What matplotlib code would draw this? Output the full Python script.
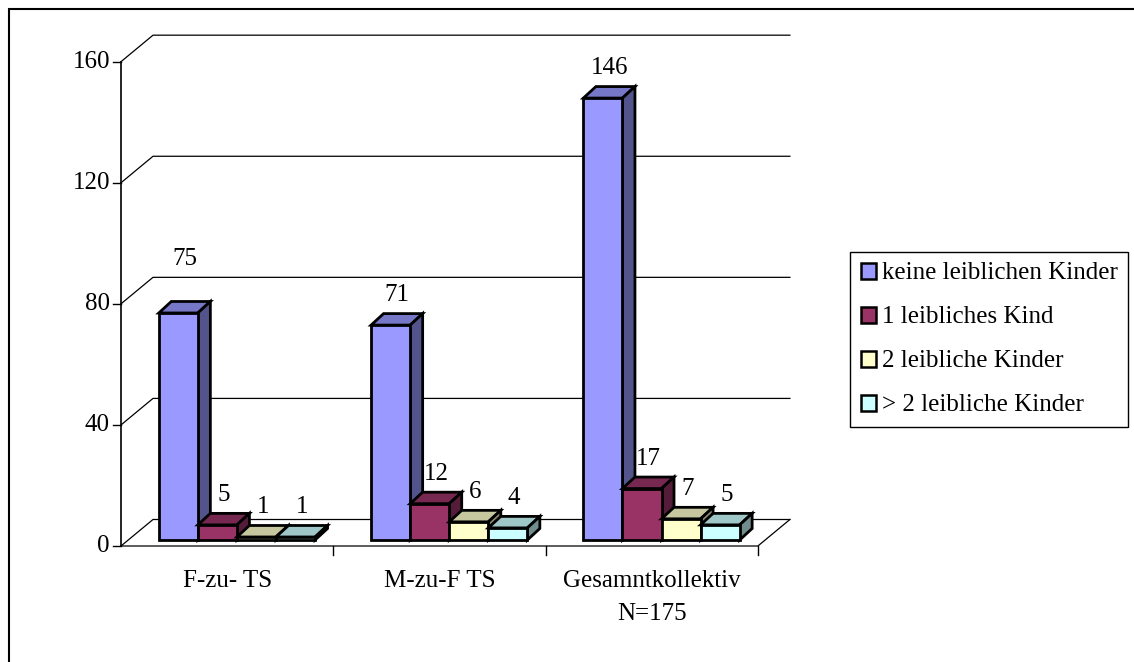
import matplotlib
matplotlib.use("Agg")
import matplotlib.pyplot as plt
from matplotlib.patches import Polygon, Patch, Rectangle
import numpy as np

# data
categories = ["F-zu- TS", "M-zu-F TS", "Gesamntkollektiv\nN=175"]
series_names = ["keine leiblichen Kinder", "1 leibliches Kind",
                "2 leibliche Kinder", "> 2 leibliche Kinder"]
keine = [75, 71, 146]
eins = [5, 12, 17]
zwei = [1, 6, 7]
mehr = [1, 4, 5]
yticks = [0, 40, 80, 120, 160]
colors = ["#9999FF", "#993366", "#FFFFCC", "#CCFFFF"]

values = [keine, eins, zwei, mehr]

plt.rcParams['font.family'] = ['Liberation Serif', 'DejaVu Serif']
FS = 18

W, H = 1134, 662
fig = plt.figure(figsize=(W / 100, H / 100), dpi=100)

# pixel scale of the plot: one category = 212.3 px, one unit = 3.027 px
sx, sy = 212.3, 3.027
x0px, y0px = 121, 546
ax = fig.add_axes([0, 0, 1, 1])
ax.set_xlim(-x0px / sx, (W - x0px) / sx)
ax.set_ylim((y0px - H) / sy, y0px / sy)
ax.axis("off")

# oblique depth of the walls and of the bars
DX, DY = 32 / sx, 26.5 / sy
f1 = 0.226                      # depth fraction of bar front faces
bdx, bdy = 12.5 / sx, 11.5 / sy  # depth of a bar
bw = 0.184                      # bar width (categories)
start = 0.178                   # first bar left edge inside a category
ncat = len(categories)

def shade(c, f):
    rgb = np.array(matplotlib.colors.to_rgb(c))
    return tuple(rgb * f)

lc = "black"
# back wall gridlines + left wall diagonals
for v in yticks:
    ax.plot([0, DX, ncat + DX], [v, v + DY, v + DY], color=lc, lw=0.9, zorder=1)
# floor
ax.plot([0, ncat, ncat + DX], [0, 0, DY], color=lc, lw=0.9, zorder=1)
# value axis with ticks
ax.plot([0, 0], [0, yticks[-1]], color=lc, lw=1.2, zorder=1)
for v in yticks:
    ax.plot([-8 / sx, 0], [v, v], color=lc, lw=1.0, zorder=1)
    ax.text(-11 / sx, v, str(v), ha="right", va="center", fontsize=FS)
# category ticks
for i in range(1, ncat + 1):
    ax.plot([i, i], [0, -9 / sy], color=lc, lw=1.0, zorder=1)
for i, cat in enumerate(categories):
    ax.text(i + 0.5, -24 / sy, cat, ha="center", va="top", fontsize=FS,
            linespacing=1.65)

zo = 3
ox, oy = f1 * DX, f1 * DY
for i in range(ncat):
    for j, ser in enumerate(values):
        v = ser[i]
        c = colors[j]
        xl = i + start + j * bw
        xr = xl + bw
        yb, yt = oy, oy + v
        top = [(xl, yt), (xr, yt), (xr + bdx, yt + bdy), (xl + bdx, yt + bdy)]
        side = [(xr, yb), (xr + bdx, yb + bdy), (xr + bdx, yt + bdy), (xr, yt)]
        front = [(xl, yb), (xr, yb), (xr, yt), (xl, yt)]
        for pts, fc in ((top, shade(c, 0.78)), (side, shade(c, 0.55)), (front, c)):
            ax.add_patch(Polygon(pts, closed=True, facecolor=fc, edgecolor="black",
                                 lw=2.0, joinstyle="miter", zorder=zo))
            zo += 1
        lift = 14 if v == 75 else 6
        ax.text(xl + bw / 2 + bdx / 2, yt + bdy + lift, str(v), ha="center",
                va="center", fontsize=FS, zorder=50)

handles = [Patch(facecolor=c, edgecolor="black", lw=1.8) for c in colors]
leg = fig.legend(handles, series_names, loc="upper left",
                 bbox_to_anchor=(850 / W, 1 - 252 / H), fontsize=FS,
                 frameon=True, fancybox=False, framealpha=1, edgecolor="black",
                 handlelength=0.6, handleheight=0.6, handletextpad=0.25,
                 labelspacing=0.88, borderpad=0.42, borderaxespad=0)
leg.get_frame().set_linewidth(1.0)

# outer chart border (runs past the right and bottom edges)
fig.add_artist(Rectangle((9 / W, -0.1), 1.2, 1.1 - 9 / H, transform=fig.transFigure,
                         fill=False, edgecolor="black", lw=1.5))

fig.savefig("out.png", dpi=100)
